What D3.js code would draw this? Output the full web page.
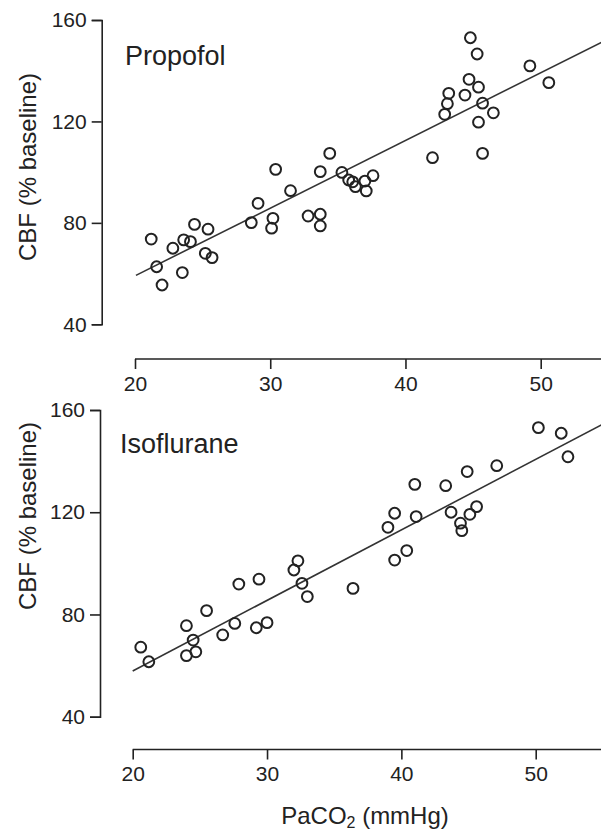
<!DOCTYPE html>
<html>
<head>
<meta charset="utf-8">
<script src="https://cdn.jsdelivr.net/npm/d3@7"></script>
<style>
  html, body { margin: 0; padding: 0; background: #fff; }
  svg { display: block; font-family: "Liberation Sans", Arial, Helvetica, sans-serif; }
</style>
</head>
<body>
<svg id="chart" width="601" height="833"></svg>
<script>
// PaCO2 (mmHg) and CBF (% baseline) for each anaesthetic
const propofolPaCO2 = [21.2, 21.6, 22.0, 22.8, 23.5, 23.6, 24.1, 24.4, 25.2, 25.4, 25.7,
  28.6, 29.1, 30.2, 30.1, 30.4, 31.5, 32.8, 33.7, 33.7, 33.7, 34.4, 35.3, 35.8, 36.1,
  36.3, 37.0, 37.1, 37.6, 42.0, 42.9, 43.1, 43.2, 44.4, 44.7, 44.8, 45.3, 45.4, 45.7,
  45.4, 45.7, 46.5, 49.2, 50.6];
const propofolCBF = [73.6, 62.7, 55.5, 70.0, 60.4, 73.3, 72.6, 79.4, 68.0, 77.5, 66.3,
  80.1, 87.7, 81.8, 77.9, 101.1, 92.7, 82.7, 83.4, 78.8, 100.2, 107.4, 99.9, 96.9, 96.2,
  94.3, 96.5, 92.6, 98.6, 105.7, 122.8, 127.0, 131.1, 130.4, 136.6, 153.0, 146.6, 133.5, 127.2,
  119.7, 107.4, 123.4, 141.9, 135.3];

const isofluranePaCO2 = [20.6, 21.2, 24.0, 24.5, 24.0, 24.7, 25.5, 26.7, 27.6, 27.9, 29.2,
  29.4, 30.0, 32.0, 32.3, 32.6, 33.0, 36.4, 39.0, 39.5, 39.5, 40.4, 41.0, 41.1, 43.3,
  43.7, 44.4, 44.5, 45.1, 45.6, 44.9, 47.1, 50.2, 51.9, 52.4];
const isofluraneCBF = [67.2, 61.5, 75.6, 70.0, 63.9, 65.4, 81.5, 72.0, 76.5, 91.9, 74.8,
  93.8, 76.8, 97.4, 101.0, 92.2, 87.0, 90.2, 114.1, 119.6, 101.3, 105.0, 130.9, 118.3, 130.4,
  120.0, 115.7, 112.8, 119.2, 122.2, 135.9, 138.2, 153.1, 150.9, 141.7];

// Regression line end points (PaCO2, CBF)
const propofolFitPaCO2 = [20.07, 54.5];
const propofolFitCBF = [59.3, 151.2];
const isofluraneFitPaCO2 = [20.0, 54.9];
const isofluraneFitCBF = [57.9, 154.2];

// Axis ticks
const xTicks = [20, 30, 40, 50];
const yTicks = [40, 80, 120, 160];

const panels = [
  { name: "Propofol", px: propofolPaCO2, cbf: propofolCBF, fx: propofolFitPaCO2, fy: propofolFitCBF,
    xr: [135, 540.7], yr: [324.3, 20], yAxisX: 101.7, xAxisY: 359, labelX: 125, labelY: 65,
    yTitleY: 167 },
  { name: "Isoflurane", px: isofluranePaCO2, cbf: isofluraneCBF, fx: isofluraneFitPaCO2, fy: isofluraneFitCBF,
    xr: [132.7, 535.7], yr: [716.7, 410], yAxisX: 100, xAxisY: 749.5, labelX: 120, labelY: 453,
    yTitleY: 516 }
];

const svg = d3.select("#chart");
const ink = "#222";

panels.forEach(p => {
  const x = d3.scaleLinear().domain([20, 50]).range(p.xr);
  const y = d3.scaleLinear().domain([40, 160]).range(p.yr);
  const g = svg.append("g");

  // y axis
  const yAxis = d3.axisLeft(y).tickValues(yTicks).tickSize(10).tickPadding(5);
  const ya = g.append("g").attr("transform", `translate(${p.yAxisX},0)`).call(yAxis);
  ya.select(".domain").attr("stroke", ink).attr("stroke-width", 1.6);
  ya.selectAll(".tick line").attr("stroke", ink).attr("stroke-width", 1.6);
  ya.selectAll(".tick text").attr("fill", ink).style("font-size", "21px");

  // x axis (line runs on to the right edge)
  const xAxis = d3.axisBottom(x).tickValues(xTicks).tickSize(10).tickPadding(7).tickSizeOuter(0);
  const xa = g.append("g").attr("transform", `translate(0,${p.xAxisY})`).call(xAxis);
  xa.select(".domain").remove();
  xa.append("line").attr("x1", x(20)).attr("x2", 601).attr("y1", 0).attr("y2", 0)
    .attr("stroke", ink).attr("stroke-width", 1.6);
  xa.selectAll(".tick line").attr("stroke", ink).attr("stroke-width", 1.6);
  xa.selectAll(".tick text").attr("fill", ink).style("font-size", "21px");

  // regression line
  g.append("line")
    .attr("x1", x(p.fx[0])).attr("y1", y(p.fy[0]))
    .attr("x2", x(p.fx[1])).attr("y2", y(p.fy[1]))
    .attr("stroke", "#333").attr("stroke-width", 1.6);

  // data points
  g.append("g").selectAll("circle")
    .data(p.px.map((v, i) => [v, p.cbf[i]]))
    .join("circle")
    .attr("cx", d => x(d[0])).attr("cy", d => y(d[1]))
    .attr("r", 5.4)
    .attr("fill", "none").attr("stroke", ink).attr("stroke-width", 2);

  // panel label
  g.append("text").attr("x", p.labelX).attr("y", p.labelY)
    .attr("fill", ink).style("font-size", "27px").text(p.name);

  // y title
  g.append("text")
    .attr("transform", `translate(36,${p.yTitleY}) rotate(-90)`)
    .attr("text-anchor", "middle").attr("fill", ink).style("font-size", "24px")
    .text("CBF (% baseline)");
});

// x title
const xt = svg.append("text").attr("x", 365).attr("y", 824)
  .attr("text-anchor", "middle").attr("fill", ink).style("font-size", "24px");
xt.append("tspan").text("PaCO");
xt.append("tspan").attr("dy", 4).style("font-size", "16px").text("2");
xt.append("tspan").attr("dy", -4).text(" (mmHg)");
</script>
</body>
</html>
